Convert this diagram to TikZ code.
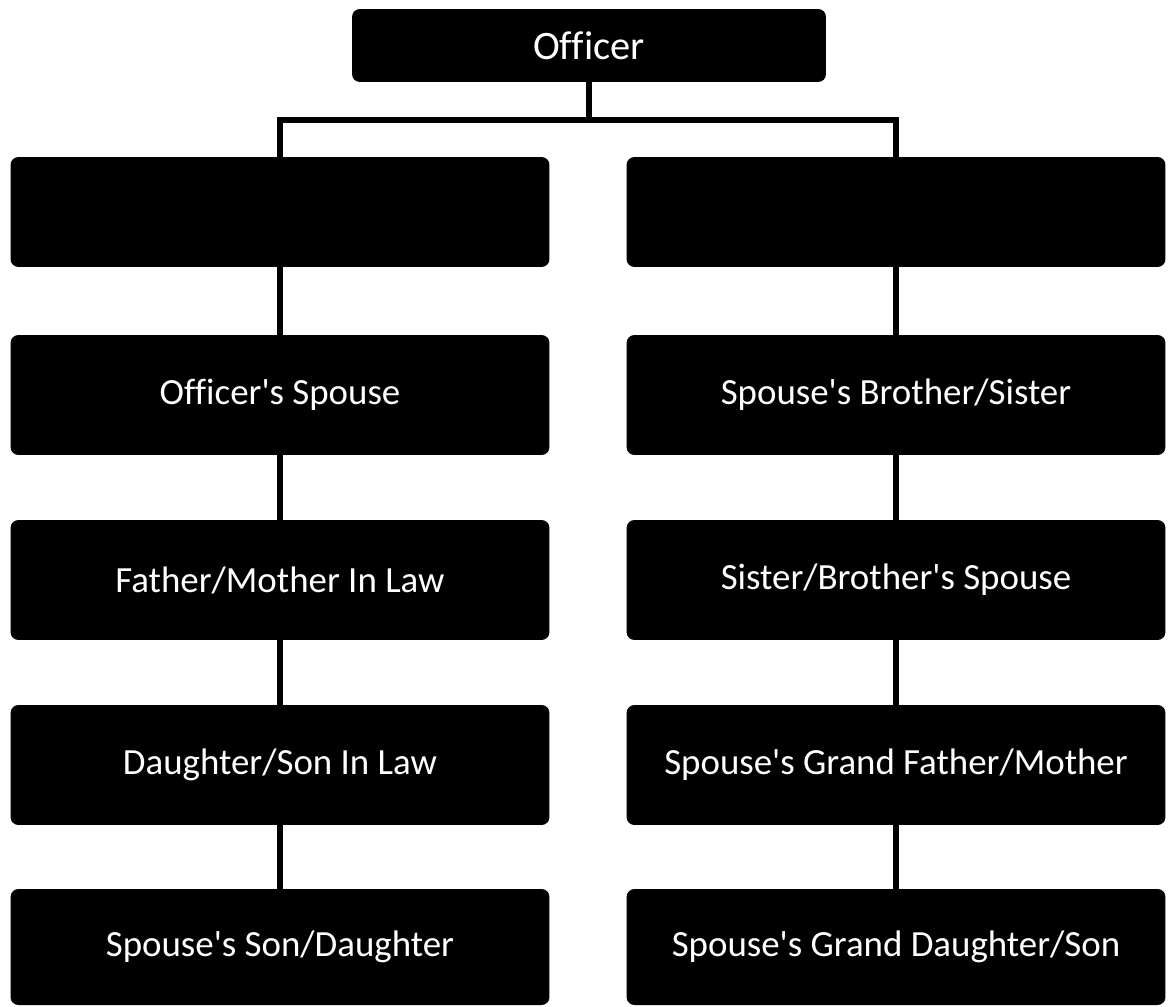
\documentclass[tikz,border=0pt]{standalone}
\usepackage{fontspec}
\setmainfont{Carlito}[Ligatures={TeXOff,CommonOff}]
\usetikzlibrary{calc}
\tikzset{
	relbox/.style={fill=black, draw=none, rounded corners=4.5pt, text=white, inner sep=0pt, outer sep=0pt,
		minimum width=10.78cm, minimum height=2.4cm, font=\fontsize{21}{25}\selectfont},
	relline/.style={line width=2.9pt, draw=black}
}

\begin{document}
\begin{tikzpicture}[x=0.02cm, y=-0.02cm]
		%%%%% START %%%%%
		
		\useasboundingbox (0, 0) rectangle (1168, 1006);
		
		\node[relbox, minimum width=9.48cm, minimum height=1.46cm, font=\fontsize{23}{27}\selectfont] (officer) at (589, 45.5) {Officer};
		
		\node[relbox, minimum height=2.2cm] (left1) at (280, 212) {};
		\node[relbox, minimum height=2.2cm] (right1) at (896, 212) {};
		
		\node[relbox] (left2) at (280, 395) {Officer's Spouse};
		\node[relbox] (left3) at (280, 580) {Father/Mother In Law};
		\node[relbox] (left4) at (280, 765) {Daughter/Son In Law};
		\node[relbox, minimum height=2.32cm] (left5) at (280, 947) {Spouse's Son/Daughter};
		
		\node[relbox] (right2) at (896, 395) {Spouse's Brother/Sister};
		\node[relbox] (right3) at (896, 580) {Sister/Brother's Spouse};
		\node[relbox] (right4) at (896, 765) {Spouse's Grand Father/Mother};
		\node[relbox, minimum height=2.32cm] (right5) at (896, 947) {Spouse's Grand Daughter/Son};
		
		\coordinate (bar) at (589, 120);
		\draw[relline] (officer.south) -- (bar);
		\draw[relline] (left1.north) -- (left1.north |- bar) -- (right1.north |- bar) -- (right1.north);
		
		\draw[relline] (left1.south) -- (left2.north);
		\draw[relline] (left2.south) -- (left3.north);
		\draw[relline] (left3.south) -- (left4.north);
		\draw[relline] (left4.south) -- (left5.north);
		
		\draw[relline] (right1.south) -- (right2.north);
		\draw[relline] (right2.south) -- (right3.north);
		\draw[relline] (right3.south) -- (right4.north);
		\draw[relline] (right4.south) -- (right5.north);
		
		%%%%% END %%%%%
	\end{tikzpicture}
\end{document}
